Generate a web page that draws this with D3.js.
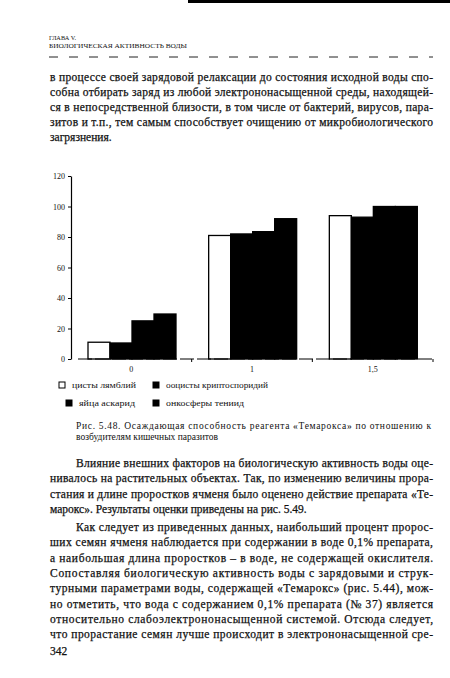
<!DOCTYPE html>
<html>
<head lang="ru">
    <meta charset="UTF-8">
    <title>Рис. 5.48</title>
    <script src="https://d3js.org/d3.v7.min.js" charset="utf-8"></script>
    <style>
        html, body { margin: 0; padding: 0; background: #fff; }
        svg { display: block; }
        .body-text { font-family: "Liberation Serif", "Times New Roman", serif; font-size: 11.5px; fill: #111; stroke: #111; stroke-width: 0.25px; }
        .small { font-family: "Liberation Serif", "Times New Roman", serif; fill: #111; }
    </style>
</head>
<body>
<div id="page"></div>
<script>
    // data
    var categories = ["0", "1", "1,5"];
    var seriesNames = ["цисты лямблий", "ооцисты криптоспоридий", "яйца аскарид", "онкосферы тениид"];
    var cystsLamblia = [11, 81, 94];
    var oocystsCrypto = [10.5, 82, 93];
    var eggsAscaris = [25, 83.5, 100];
    var oncospheres = [29.5, 92, 100];
    var yTicks = [0, 20, 40, 60, 80, 100, 120];

    var seriesValues = [cystsLamblia, oocystsCrypto, eggsAscaris, oncospheres];
    var seriesFill = ["#fff", "#000", "#000", "#000"];

    // page text
    var header = ["ГЛАВА V.", "БИОЛОГИЧЕСКАЯ АКТИВНОСТЬ ВОДЫ"];
    var topPara = [
        "в процессе своей зарядовой релаксации до состояния исходной воды спо-",
        "собна отбирать заряд из любой электрононасыщенной среды, находящей-",
        "ся в непосредственной близости, в том числе от бактерий, вирусов, пара-",
        "зитов и т.п., тем самым способствует очищению от микробиологического",
        "загрязнения."
    ];
    var caption = [
        "Рис. 5.48. Осаждающая способность реагента «Темарокса» по отношению к",
        "возбудителям кишечных паразитов"
    ];
    var para1 = [
        "Влияние внешних факторов на биологическую активность воды оце-",
        "нивалось на растительных объектах. Так, по изменению величины прора-",
        "стания и длине проростков ячменя было оценено действие препарата «Те-",
        "марокс». Результаты оценки приведены на рис. 5.49."
    ];
    var para2 = [
        "Как следует из приведенных данных, наибольший процент пророс-",
        "ших семян ячменя наблюдается при содержании в воде 0,1% препарата,",
        "а наибольшая длина проростков – в воде, не содержащей окислителя.",
        "Сопоставляя биологическую активность воды с зарядовыми и струк-",
        "турными параметрами воды, содержащей «Темарокс» (рис. 5.44), мож-",
        "но отметить, что вода с содержанием 0,1% препарата (№ 37) является",
        "относительно слабоэлектрононасыщенной системой. Отсюда следует,",
        "что прорастание семян лучше происходит в электрононасыщенной сре-"
    ];

    var W = 450, H = 678;
    var left = 50, right = 433;

    var svg = d3.select("#page").append("svg").attr("width", W).attr("height", H);

    // top edge of scanned page
    svg.append("rect").attr("x", 188).attr("y", 0).attr("width", 262).attr("height", 3).attr("fill", "#000");

    svg.selectAll("text.hdr").data(header).enter().append("text")
        .attr("class", "hdr small")
        .attr("x", 49)
        .attr("y", function (d, i) { return 40 + i * 8; })
        .attr("font-size", "6.5px")
        .attr("textLength", function (d, i) { return i ? 138 : 27; })
        .attr("lengthAdjust", "spacingAndGlyphs")
        .text(function (d) { return d; });

    svg.append("line").attr("x1", 49).attr("x2", right).attr("y1", 57).attr("y2", 57)
        .attr("stroke", "#222").attr("stroke-width", 1).attr("stroke-dasharray", "9,11");

    // justified paragraph helper
    function para(lines, y0, step, indent, lastFree) {
        svg.append("g").selectAll("text").data(lines).enter().append("text")
            .attr("class", "body-text")
            .attr("x", function (d, i) { return (i == 0 && indent) ? left + 26 : left; })
            .attr("y", function (d, i) { return y0 + i * step; })
            .each(function (d, i) {
                if (lastFree && i == lines.length - 1) return;
                var x0 = (i == 0 && indent) ? left + 26 : left;
                d3.select(this).attr("textLength", right - x0).attr("lengthAdjust", "spacing");
            })
            .text(function (d) { return d; });
    }

    para(topPara, 81, 15, false, true);
    para(para1, 467, 15.3, true, true);
    para(para2, 531, 15.3, true, false);

    svg.append("text").attr("class", "body-text").attr("x", left).attr("y", 655).text("342");

    // chart
    var x0 = d3.scaleBand().domain(categories).range([71, 433]);
    var x1 = d3.scaleBand().domain(d3.range(seriesNames.length)).range([17, 105]);
    var y = d3.scaleLinear().domain([0, 120]).range([359, 176]);

    var chart = svg.append("g");

    var groups = chart.selectAll("g.cat").data(categories).enter().append("g")
        .attr("class", "cat")
        .attr("transform", function (d) { return "translate(" + x0(d) + ",0)"; });

    groups.selectAll("rect").data(function (d, ci) {
        return seriesValues.map(function (vals, si) { return { s: si, v: vals[ci] }; });
    }).enter().append("rect")
        .attr("x", function (d) { return x1(d.s); })
        .attr("y", function (d) { return y(d.v); })
        .attr("width", x1.bandwidth())
        .attr("height", function (d) { return y(0) - y(d.v); })
        .attr("fill", function (d) { return seriesFill[d.s]; })
        .attr("stroke", "#000")
        .attr("stroke-width", 1.3);

    var yAxis = d3.axisLeft(y).tickValues(yTicks).tickSize(3).tickSizeOuter(0).tickPadding(3);
    var gy = chart.append("g").attr("transform", "translate(71,0)").call(yAxis);
    gy.select(".domain").attr("stroke", "#000").attr("stroke-width", 1.2);
    gy.selectAll("text").attr("class", "small").attr("font-size", "8px").attr("font-family", "Liberation Serif");

    // x axis baseline with category boundary ticks
    chart.append("line").attr("x1", 78).attr("x2", 433).attr("y1", y(0)).attr("y2", y(0))
        .attr("stroke", "#000").attr("stroke-width", 1).attr("stroke-dasharray", "14,3");
    var bounds = categories.slice(1).map(function (c) { return x0(c); }).concat([x0.range()[1]]);
    chart.selectAll("line.bt").data(bounds).enter().append("line")
        .attr("class", "bt")
        .attr("x1", function (d) { return d; }).attr("x2", function (d) { return d; })
        .attr("y1", y(0)).attr("y2", y(0) + 3)
        .attr("stroke", "#000");

    chart.selectAll("text.cl").data(categories).enter().append("text")
        .attr("class", "cl small")
        .attr("x", function (d) { return x0(d) + x0.bandwidth() / 2; })
        .attr("y", 372)
        .attr("text-anchor", "middle")
        .attr("font-size", "8px")
        .text(function (d) { return d; });

    // legend, two columns (second row starts a bit further right, as printed)
    var legX = [59, 153, 66, 153];
    var legY = [385, 385, 403, 403];
    var legW = [64, 102, 56, 78];
    var legend = svg.append("g").selectAll("g").data(seriesNames).enter().append("g")
        .attr("transform", function (d, i) { return "translate(" + legX[i] + "," + legY[i] + ")"; });
    legend.append("rect")
        .attr("x", 0).attr("y", -3).attr("width", 6).attr("height", 6)
        .attr("fill", function (d, i) { return seriesFill[i]; })
        .attr("stroke", "#000").attr("stroke-width", 1);
    legend.append("text")
        .attr("class", "small")
        .attr("x", 13).attr("y", 3)
        .attr("font-size", "8px")
        .attr("textLength", function (d, i) { return legW[i]; })
        .attr("lengthAdjust", "spacingAndGlyphs")
        .text(function (d) { return d; });

    // caption
    svg.selectAll("text.cap").data(caption).enter().append("text")
        .attr("class", "cap small")
        .attr("x", 76)
        .attr("y", function (d, i) { return 429 + i * 11; })
        .attr("font-size", "9.5px")
        .each(function (d, i) {
            if (i == 0) d3.select(this).attr("textLength", 355).attr("lengthAdjust", "spacing");
        })
        .text(function (d) { return d; });
</script>
</body>
</html>
